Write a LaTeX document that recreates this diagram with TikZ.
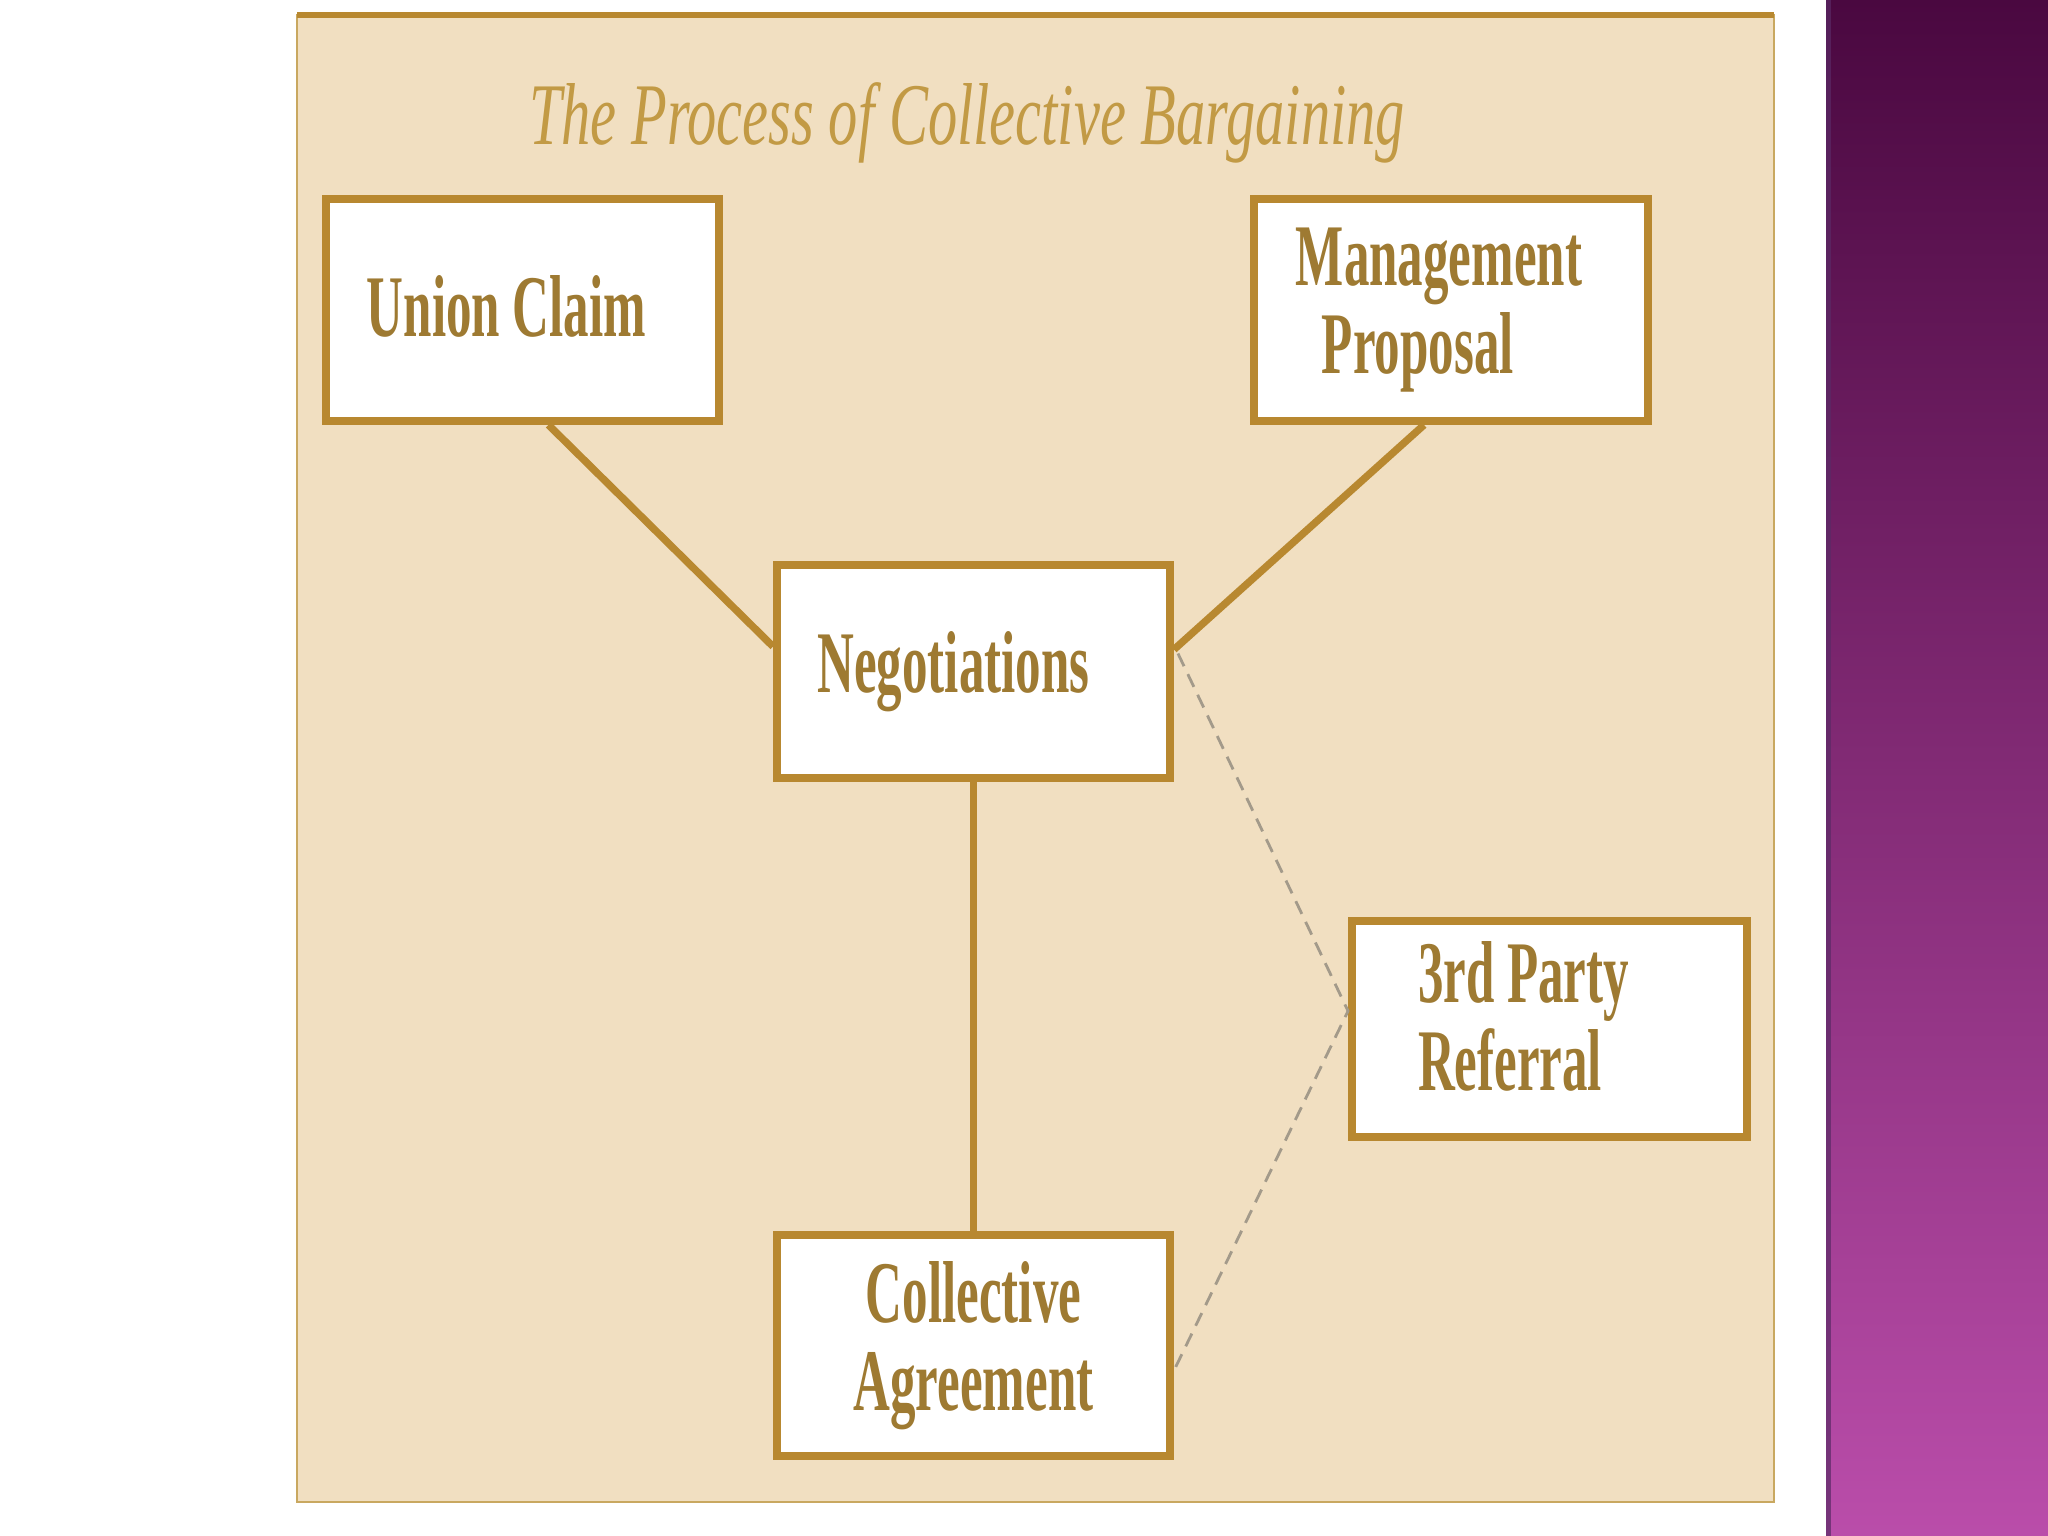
\documentclass[tikz,border=0pt]{standalone}
\usepackage{fontspec}
\setmainfont{Liberation Serif}
\newfontfamily\boxfont{Liberation Serif}[FakeStretch=0.58]
\newfontfamily\titlefont{Liberation Serif}[FakeStretch=0.665]
\usetikzlibrary{calc}
\definecolor{gold}{HTML}{B88830}
\definecolor{txtgold}{HTML}{9E7A32}
\definecolor{titlegold}{HTML}{C29A45}
\definecolor{panel}{HTML}{F1DFC1}
\definecolor{panelline}{HTML}{C9A860}
\definecolor{purptop}{HTML}{4A0840}
\definecolor{purpbot}{HTML}{BA4DAA}
\definecolor{purpedge}{HTML}{5A2A66}
\definecolor{dashgrey}{HTML}{A39A8A}
\tikzset{
  stepbox/.style={draw=gold, line width=2.2pt, fill=white, rectangle, inner sep=0pt,
    text=txtgold, font=\boxfont\bfseries\fontsize{25}{25}\selectfont},
  conn/.style={draw=gold, line width=2.1pt},
  dashconn/.style={draw=dashgrey, line width=0.8pt, dash pattern=on 4pt off 2.5pt}
}
\begin{document}
\begin{tikzpicture}[x=0.01cm, y=-0.01cm]
\useasboundingbox (0,0) rectangle (2048,1536);
\fill[white] (0,0) rectangle (2048,1536);
% purple side band
\shade[top color=purptop, bottom color=purpbot] (1826,0) rectangle (2048,1536);
\fill[purpedge, opacity=0.7] (1826,0) rectangle (1831,1536);
% panel
\draw[draw=panelline, line width=0.6pt, fill=panel] (297,15) rectangle (1774,1502);
\draw[gold, line width=1.5pt] (297,15) -- (1774,15);
% title
\node[anchor=base, text=titlegold, font=\titlefont\itshape\fontsize{25}{25}\selectfont]
  (title) at (967,144) {The Process of Collective Bargaining};
% boxes
\node[stepbox, minimum width=3.93cm, minimum height=2.22cm] (uc) at (522.5,310)
  {\raisebox{0.09cm}{Union Claim}\hspace*{0.32cm}};
\node[stepbox, minimum width=3.94cm, minimum height=2.22cm, align=left] (mp) at (1451,310)
  {Management\hspace*{0.24cm}\\\hspace*{0.26cm}Proposal};
\node[stepbox, minimum width=3.93cm, minimum height=2.13cm] (neg) at (973.5,671.5)
  {Negotiations\hspace*{0.40cm}};
\node[stepbox, minimum width=3.95cm, minimum height=2.16cm] (tp) at (1549.5,1029)
  {\raisebox{0.09cm}{\begin{tabular}{@{}l@{}}3rd Party\\Referral\end{tabular}}\hspace*{0.52cm}};
\node[stepbox, minimum width=3.93cm, minimum height=2.21cm, align=center] (ca) at (973.5,1345.5)
  {Collective\\Agreement};
% connectors
\draw[conn] ($(uc.south)+(26,0)$) -- ($(neg.west)+(0,-25)$);
\draw[conn] ($(mp.south)+(-27,0)$) -- ($(neg.east)+(0,-22)$);
\draw[conn] (neg.south) -- (ca.north);
\draw[dashconn] ($(neg.east)+(4,-18)$) -- ($(tp.west)+(0,-18)$) -- ($(ca.east)+(0,25)$);
\end{tikzpicture}
\end{document}
